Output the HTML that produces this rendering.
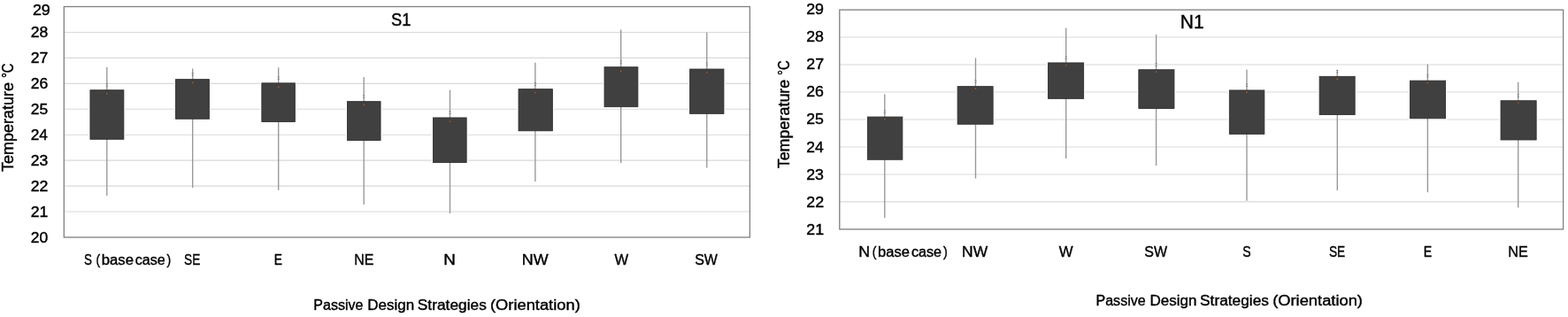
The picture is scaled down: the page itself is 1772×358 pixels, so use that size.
<!DOCTYPE html>
<html><head><meta charset="utf-8"><title>Temperature box plots</title>
<style>
html,body{margin:0;padding:0;background:#fff;}
body{width:1772px;height:358px;overflow:hidden;}
svg{display:block;}
text{font-family:"Liberation Sans", Arial, sans-serif;stroke:#000;stroke-width:0.4px;}
</style></head><body>
<svg width="1772" height="358" viewBox="0 0 1772 358">
<rect width="1772" height="358" fill="#fff"/>
<line x1="72.30" y1="239.06" x2="847.40" y2="239.06" stroke="#d9d9d9" stroke-width="1.1"/>
<line x1="72.30" y1="210.11" x2="847.40" y2="210.11" stroke="#d9d9d9" stroke-width="1.1"/>
<line x1="72.30" y1="181.17" x2="847.40" y2="181.17" stroke="#d9d9d9" stroke-width="1.1"/>
<line x1="72.30" y1="152.22" x2="847.40" y2="152.22" stroke="#d9d9d9" stroke-width="1.1"/>
<line x1="72.30" y1="123.28" x2="847.40" y2="123.28" stroke="#d9d9d9" stroke-width="1.1"/>
<line x1="72.30" y1="94.33" x2="847.40" y2="94.33" stroke="#d9d9d9" stroke-width="1.1"/>
<line x1="72.30" y1="65.39" x2="847.40" y2="65.39" stroke="#d9d9d9" stroke-width="1.1"/>
<line x1="72.30" y1="36.44" x2="847.40" y2="36.44" stroke="#d9d9d9" stroke-width="1.1"/>
<rect x="101.50" y="101.30" width="38.80" height="56.40" fill="#fff" stroke="#fff" stroke-width="2.6"/>
<rect x="198.10" y="89.20" width="38.70" height="45.50" fill="#fff" stroke="#fff" stroke-width="2.6"/>
<rect x="295.40" y="93.40" width="38.40" height="44.50" fill="#fff" stroke="#fff" stroke-width="2.6"/>
<rect x="392.10" y="114.20" width="38.40" height="44.70" fill="#fff" stroke="#fff" stroke-width="2.6"/>
<rect x="489.10" y="132.50" width="38.50" height="51.40" fill="#fff" stroke="#fff" stroke-width="2.6"/>
<rect x="585.60" y="100.20" width="39.20" height="48.00" fill="#fff" stroke="#fff" stroke-width="2.6"/>
<rect x="682.60" y="75.30" width="38.70" height="45.80" fill="#fff" stroke="#fff" stroke-width="2.6"/>
<rect x="779.20" y="77.60" width="39.20" height="51.20" fill="#fff" stroke="#fff" stroke-width="2.6"/>
<line x1="120.80" y1="76.10" x2="120.80" y2="221.00" stroke="#979797" stroke-width="1.35"/>
<line x1="217.70" y1="77.60" x2="217.70" y2="212.00" stroke="#979797" stroke-width="1.35"/>
<line x1="314.70" y1="76.30" x2="314.70" y2="214.80" stroke="#979797" stroke-width="1.35"/>
<line x1="411.20" y1="87.00" x2="411.20" y2="230.90" stroke="#979797" stroke-width="1.35"/>
<line x1="508.50" y1="101.60" x2="508.50" y2="240.90" stroke="#979797" stroke-width="1.35"/>
<line x1="604.90" y1="70.80" x2="604.90" y2="205.10" stroke="#979797" stroke-width="1.35"/>
<line x1="701.70" y1="33.60" x2="701.70" y2="183.90" stroke="#979797" stroke-width="1.35"/>
<line x1="798.80" y1="36.80" x2="798.80" y2="189.50" stroke="#979797" stroke-width="1.35"/>
<rect x="101.95" y="101.75" width="37.90" height="55.50" fill="#404040" stroke="#303030" stroke-width="0.9"/>
<rect x="119.80" y="94.30" width="2.0" height="1.0" fill="#7a7a7a"/>
<rect x="119.80" y="96.80" width="2.0" height="1.0" fill="#7a7a7a"/>
<circle cx="120.80" cy="105.80" r="0.85" fill="#a85a2c"/>
<rect x="198.55" y="89.65" width="37.80" height="44.60" fill="#404040" stroke="#303030" stroke-width="0.9"/>
<rect x="216.70" y="82.20" width="2.0" height="1.0" fill="#7a7a7a"/>
<rect x="216.70" y="84.70" width="2.0" height="1.0" fill="#7a7a7a"/>
<circle cx="217.70" cy="93.40" r="0.85" fill="#a85a2c"/>
<rect x="295.85" y="93.85" width="37.50" height="43.60" fill="#404040" stroke="#303030" stroke-width="0.9"/>
<rect x="313.70" y="86.40" width="2.0" height="1.0" fill="#7a7a7a"/>
<rect x="313.70" y="88.90" width="2.0" height="1.0" fill="#7a7a7a"/>
<circle cx="314.70" cy="98.20" r="0.85" fill="#a85a2c"/>
<rect x="392.55" y="114.65" width="37.50" height="43.80" fill="#404040" stroke="#303030" stroke-width="0.9"/>
<rect x="410.20" y="107.20" width="2.0" height="1.0" fill="#7a7a7a"/>
<rect x="410.20" y="109.70" width="2.0" height="1.0" fill="#7a7a7a"/>
<circle cx="411.20" cy="118.60" r="0.85" fill="#a85a2c"/>
<rect x="489.55" y="132.95" width="37.60" height="50.50" fill="#404040" stroke="#303030" stroke-width="0.9"/>
<rect x="507.50" y="125.50" width="2.0" height="1.0" fill="#7a7a7a"/>
<rect x="507.50" y="128.00" width="2.0" height="1.0" fill="#7a7a7a"/>
<circle cx="508.50" cy="137.00" r="0.85" fill="#a85a2c"/>
<rect x="586.05" y="100.65" width="38.30" height="47.10" fill="#404040" stroke="#303030" stroke-width="0.9"/>
<rect x="603.90" y="93.20" width="2.0" height="1.0" fill="#7a7a7a"/>
<rect x="603.90" y="95.70" width="2.0" height="1.0" fill="#7a7a7a"/>
<circle cx="604.90" cy="104.50" r="0.85" fill="#a85a2c"/>
<rect x="683.05" y="75.75" width="37.80" height="44.90" fill="#404040" stroke="#303030" stroke-width="0.9"/>
<rect x="700.70" y="68.30" width="2.0" height="1.0" fill="#7a7a7a"/>
<rect x="700.70" y="70.80" width="2.0" height="1.0" fill="#7a7a7a"/>
<circle cx="701.70" cy="80.30" r="0.85" fill="#a85a2c"/>
<rect x="779.65" y="78.05" width="38.30" height="50.30" fill="#404040" stroke="#303030" stroke-width="0.9"/>
<rect x="797.80" y="70.60" width="2.0" height="1.0" fill="#7a7a7a"/>
<rect x="797.80" y="73.10" width="2.0" height="1.0" fill="#7a7a7a"/>
<circle cx="798.80" cy="82.00" r="0.85" fill="#a85a2c"/>
<rect x="72.30" y="7.50" width="775.10" height="260.50" fill="none" stroke="#7f7f7f" stroke-width="1.3"/>
<line x1="948.80" y1="227.92" x2="1766.60" y2="227.92" stroke="#d9d9d9" stroke-width="1.1"/>
<line x1="948.80" y1="196.95" x2="1766.60" y2="196.95" stroke="#d9d9d9" stroke-width="1.1"/>
<line x1="948.80" y1="165.97" x2="1766.60" y2="165.97" stroke="#d9d9d9" stroke-width="1.1"/>
<line x1="948.80" y1="135.00" x2="1766.60" y2="135.00" stroke="#d9d9d9" stroke-width="1.1"/>
<line x1="948.80" y1="104.02" x2="1766.60" y2="104.02" stroke="#d9d9d9" stroke-width="1.1"/>
<line x1="948.80" y1="73.05" x2="1766.60" y2="73.05" stroke="#d9d9d9" stroke-width="1.1"/>
<line x1="948.80" y1="42.07" x2="1766.60" y2="42.07" stroke="#d9d9d9" stroke-width="1.1"/>
<rect x="979.90" y="131.60" width="40.40" height="49.10" fill="#fff" stroke="#fff" stroke-width="2.6"/>
<rect x="1081.70" y="97.20" width="40.90" height="43.50" fill="#fff" stroke="#fff" stroke-width="2.6"/>
<rect x="1184.10" y="70.50" width="41.00" height="41.30" fill="#fff" stroke="#fff" stroke-width="2.6"/>
<rect x="1286.40" y="78.30" width="41.00" height="44.60" fill="#fff" stroke="#fff" stroke-width="2.6"/>
<rect x="1388.90" y="101.50" width="40.40" height="50.30" fill="#fff" stroke="#fff" stroke-width="2.6"/>
<rect x="1490.70" y="85.90" width="40.90" height="44.00" fill="#fff" stroke="#fff" stroke-width="2.6"/>
<rect x="1593.10" y="90.70" width="40.90" height="43.50" fill="#fff" stroke="#fff" stroke-width="2.6"/>
<rect x="1695.60" y="113.30" width="41.00" height="45.10" fill="#fff" stroke="#fff" stroke-width="2.6"/>
<line x1="999.80" y1="106.30" x2="999.80" y2="245.90" stroke="#979797" stroke-width="1.35"/>
<line x1="1102.50" y1="65.50" x2="1102.50" y2="201.50" stroke="#979797" stroke-width="1.35"/>
<line x1="1204.70" y1="31.80" x2="1204.70" y2="178.90" stroke="#979797" stroke-width="1.35"/>
<line x1="1306.60" y1="38.90" x2="1306.60" y2="187.00" stroke="#979797" stroke-width="1.35"/>
<line x1="1409.00" y1="78.40" x2="1409.00" y2="226.70" stroke="#979797" stroke-width="1.35"/>
<line x1="1511.30" y1="78.90" x2="1511.30" y2="214.90" stroke="#979797" stroke-width="1.35"/>
<line x1="1613.40" y1="72.60" x2="1613.40" y2="217.20" stroke="#979797" stroke-width="1.35"/>
<line x1="1715.70" y1="92.70" x2="1715.70" y2="234.50" stroke="#979797" stroke-width="1.35"/>
<rect x="980.35" y="132.05" width="39.50" height="48.20" fill="#404040" stroke="#303030" stroke-width="0.9"/>
<rect x="998.80" y="124.60" width="2.0" height="1.0" fill="#7a7a7a"/>
<rect x="998.80" y="127.10" width="2.0" height="1.0" fill="#7a7a7a"/>
<circle cx="999.80" cy="134.60" r="0.85" fill="#a85a2c"/>
<rect x="1082.15" y="97.65" width="40.00" height="42.60" fill="#404040" stroke="#303030" stroke-width="0.9"/>
<rect x="1101.50" y="90.20" width="2.0" height="1.0" fill="#7a7a7a"/>
<rect x="1101.50" y="92.70" width="2.0" height="1.0" fill="#7a7a7a"/>
<circle cx="1102.50" cy="100.20" r="0.85" fill="#a85a2c"/>
<rect x="1184.55" y="70.95" width="40.10" height="40.40" fill="#404040" stroke="#303030" stroke-width="0.9"/>
<rect x="1203.70" y="63.50" width="2.0" height="1.0" fill="#7a7a7a"/>
<rect x="1203.70" y="66.00" width="2.0" height="1.0" fill="#7a7a7a"/>
<circle cx="1204.70" cy="73.80" r="0.85" fill="#a85a2c"/>
<rect x="1286.85" y="78.75" width="40.10" height="43.70" fill="#404040" stroke="#303030" stroke-width="0.9"/>
<rect x="1305.60" y="71.30" width="2.0" height="1.0" fill="#7a7a7a"/>
<rect x="1305.60" y="73.80" width="2.0" height="1.0" fill="#7a7a7a"/>
<circle cx="1306.60" cy="81.10" r="0.85" fill="#a85a2c"/>
<rect x="1389.35" y="101.95" width="39.50" height="49.40" fill="#404040" stroke="#303030" stroke-width="0.9"/>
<rect x="1408.00" y="94.50" width="2.0" height="1.0" fill="#7a7a7a"/>
<rect x="1408.00" y="97.00" width="2.0" height="1.0" fill="#7a7a7a"/>
<circle cx="1409.00" cy="104.20" r="0.85" fill="#a85a2c"/>
<rect x="1491.15" y="86.35" width="40.00" height="43.10" fill="#404040" stroke="#303030" stroke-width="0.9"/>
<rect x="1510.30" y="78.90" width="2.0" height="1.0" fill="#7a7a7a"/>
<rect x="1510.30" y="81.40" width="2.0" height="1.0" fill="#7a7a7a"/>
<circle cx="1511.30" cy="89.20" r="0.85" fill="#a85a2c"/>
<rect x="1593.55" y="91.15" width="40.00" height="42.60" fill="#404040" stroke="#303030" stroke-width="0.9"/>
<rect x="1612.40" y="83.70" width="2.0" height="1.0" fill="#7a7a7a"/>
<rect x="1612.40" y="86.20" width="2.0" height="1.0" fill="#7a7a7a"/>
<circle cx="1613.40" cy="93.60" r="0.85" fill="#a85a2c"/>
<rect x="1696.05" y="113.75" width="40.10" height="44.20" fill="#404040" stroke="#303030" stroke-width="0.9"/>
<rect x="1714.70" y="106.30" width="2.0" height="1.0" fill="#7a7a7a"/>
<rect x="1714.70" y="108.80" width="2.0" height="1.0" fill="#7a7a7a"/>
<circle cx="1715.70" cy="116.00" r="0.85" fill="#a85a2c"/>
<rect x="948.80" y="11.10" width="817.80" height="247.80" fill="none" stroke="#7f7f7f" stroke-width="1.3"/>
<text x="34.72" y="274.48" font-size="16.92" textLength="19.47" lengthAdjust="spacingAndGlyphs" fill="#000">20</text>
<text x="34.72" y="245.37" font-size="16.92" textLength="19.67" lengthAdjust="spacingAndGlyphs" fill="#000">21</text>
<text x="34.71" y="216.26" font-size="16.92" textLength="19.71" lengthAdjust="spacingAndGlyphs" fill="#000">22</text>
<text x="34.72" y="187.15" font-size="16.92" textLength="19.57" lengthAdjust="spacingAndGlyphs" fill="#000">23</text>
<text x="34.73" y="158.04" font-size="16.92" textLength="19.28" lengthAdjust="spacingAndGlyphs" fill="#000">24</text>
<text x="34.72" y="128.93" font-size="16.92" textLength="19.52" lengthAdjust="spacingAndGlyphs" fill="#000">25</text>
<text x="34.72" y="99.82" font-size="16.92" textLength="19.57" lengthAdjust="spacingAndGlyphs" fill="#000">26</text>
<text x="34.71" y="70.71" font-size="16.92" textLength="19.71" lengthAdjust="spacingAndGlyphs" fill="#000">27</text>
<text x="34.72" y="41.60" font-size="16.92" textLength="19.57" lengthAdjust="spacingAndGlyphs" fill="#000">28</text>
<text x="36.90" y="17.00" font-size="16.77" textLength="19.95" lengthAdjust="spacingAndGlyphs" fill="#000">29</text>
<text x="911.21" y="264.73" font-size="16.63" textLength="19.88" lengthAdjust="spacingAndGlyphs" fill="#000">21</text>
<text x="911.20" y="233.67" font-size="16.63" textLength="19.93" lengthAdjust="spacingAndGlyphs" fill="#000">22</text>
<text x="911.21" y="202.61" font-size="16.63" textLength="19.79" lengthAdjust="spacingAndGlyphs" fill="#000">23</text>
<text x="911.22" y="171.55" font-size="16.63" textLength="19.50" lengthAdjust="spacingAndGlyphs" fill="#000">24</text>
<text x="911.21" y="140.49" font-size="16.63" textLength="19.74" lengthAdjust="spacingAndGlyphs" fill="#000">25</text>
<text x="911.21" y="109.43" font-size="16.63" textLength="19.79" lengthAdjust="spacingAndGlyphs" fill="#000">26</text>
<text x="911.20" y="78.37" font-size="16.63" textLength="19.93" lengthAdjust="spacingAndGlyphs" fill="#000">27</text>
<text x="911.21" y="47.31" font-size="16.63" textLength="19.79" lengthAdjust="spacingAndGlyphs" fill="#000">28</text>
<text x="911.21" y="16.25" font-size="16.63" textLength="19.84" lengthAdjust="spacingAndGlyphs" fill="#000">29</text>
<text x="442.08" y="29.20" font-size="20.65" textLength="22.41" lengthAdjust="spacingAndGlyphs" fill="#000">S1</text>
<text x="1333.87" y="31.80" font-size="21.53" textLength="26.85" lengthAdjust="spacingAndGlyphs" fill="#000">N1</text>
<text x="95.10" y="298.80" font-size="17.30" textLength="8.93" lengthAdjust="spacingAndGlyphs" fill="#000">S</text>
<text x="108.42" y="298.80" font-size="17.30" textLength="4.69" lengthAdjust="spacingAndGlyphs" fill="#000">(</text>
<text x="114.81" y="298.80" font-size="17.30" textLength="36.21" lengthAdjust="spacingAndGlyphs" fill="#000">base</text>
<text x="152.82" y="298.80" font-size="17.30" textLength="34.01" lengthAdjust="spacingAndGlyphs" fill="#000">case</text>
<text x="188.49" y="298.80" font-size="17.30" textLength="4.69" lengthAdjust="spacingAndGlyphs" fill="#000">)</text>
<text x="208.08" y="298.80" font-size="17.30" textLength="18.29" lengthAdjust="spacingAndGlyphs" fill="#000">SE</text>
<text x="309.76" y="298.80" font-size="17.30" textLength="9.22" lengthAdjust="spacingAndGlyphs" fill="#000">E</text>
<text x="400.18" y="298.80" font-size="17.30" textLength="22.18" lengthAdjust="spacingAndGlyphs" fill="#000">NE</text>
<text x="501.15" y="298.80" font-size="17.30" textLength="13.60" lengthAdjust="spacingAndGlyphs" fill="#000">N</text>
<text x="589.72" y="298.80" font-size="17.30" textLength="29.84" lengthAdjust="spacingAndGlyphs" fill="#000">NW</text>
<text x="694.42" y="298.80" font-size="17.30" textLength="15.65" lengthAdjust="spacingAndGlyphs" fill="#000">W</text>
<text x="785.18" y="298.80" font-size="17.30" textLength="25.77" lengthAdjust="spacingAndGlyphs" fill="#000">SW</text>
<text x="970.23" y="289.80" font-size="17.30" textLength="12.82" lengthAdjust="spacingAndGlyphs" fill="#000">N</text>
<text x="985.72" y="289.80" font-size="17.30" textLength="4.69" lengthAdjust="spacingAndGlyphs" fill="#000">(</text>
<text x="992.12" y="289.80" font-size="17.30" textLength="35.90" lengthAdjust="spacingAndGlyphs" fill="#000">base</text>
<text x="1030.01" y="289.80" font-size="17.30" textLength="34.11" lengthAdjust="spacingAndGlyphs" fill="#000">case</text>
<text x="1065.89" y="289.80" font-size="17.30" textLength="4.82" lengthAdjust="spacingAndGlyphs" fill="#000">)</text>
<text x="1087.06" y="289.80" font-size="17.30" textLength="29.10" lengthAdjust="spacingAndGlyphs" fill="#000">NW</text>
<text x="1196.82" y="289.80" font-size="17.30" textLength="15.85" lengthAdjust="spacingAndGlyphs" fill="#000">W</text>
<text x="1293.28" y="289.80" font-size="17.30" textLength="25.77" lengthAdjust="spacingAndGlyphs" fill="#000">SW</text>
<text x="1404.27" y="289.80" font-size="17.30" textLength="9.40" lengthAdjust="spacingAndGlyphs" fill="#000">S</text>
<text x="1501.88" y="289.80" font-size="17.30" textLength="18.29" lengthAdjust="spacingAndGlyphs" fill="#000">SE</text>
<text x="1608.83" y="289.80" font-size="17.30" textLength="9.47" lengthAdjust="spacingAndGlyphs" fill="#000">E</text>
<text x="1704.36" y="289.80" font-size="17.30" textLength="22.51" lengthAdjust="spacingAndGlyphs" fill="#000">NE</text>
<text x="354.28" y="349.80" font-size="17.30" textLength="56.23" lengthAdjust="spacingAndGlyphs" fill="#000">Passive</text>
<text x="415.19" y="349.80" font-size="17.30" textLength="53.02" lengthAdjust="spacingAndGlyphs" fill="#000">Design</text>
<text x="471.82" y="349.80" font-size="17.30" textLength="77.99" lengthAdjust="spacingAndGlyphs" fill="#000">Strategies</text>
<text x="553.96" y="349.80" font-size="17.30" textLength="101.80" lengthAdjust="spacingAndGlyphs" fill="#000">(Orientation)</text>
<text x="1238.48" y="345.00" font-size="17.30" textLength="56.23" lengthAdjust="spacingAndGlyphs" fill="#000">Passive</text>
<text x="1299.39" y="345.00" font-size="17.30" textLength="53.02" lengthAdjust="spacingAndGlyphs" fill="#000">Design</text>
<text x="1356.02" y="345.00" font-size="17.30" textLength="77.99" lengthAdjust="spacingAndGlyphs" fill="#000">Strategies</text>
<text x="1438.16" y="345.00" font-size="17.30" textLength="101.80" lengthAdjust="spacingAndGlyphs" fill="#000">(Orientation)</text>
<text transform="translate(15.00,194.00) rotate(-90)" x="0" y="0" font-size="17.80" textLength="100.89" lengthAdjust="spacingAndGlyphs" fill="#000">Temperature</text>
<text transform="translate(15.00,88.09) rotate(-90)" x="0" y="0" font-size="17.80" textLength="16.57" lengthAdjust="spacingAndGlyphs" fill="#000">°C</text>
<text transform="translate(892.30,190.30) rotate(-90)" x="0" y="0" font-size="17.80" textLength="100.59" lengthAdjust="spacingAndGlyphs" fill="#000">Temperature</text>
<text transform="translate(892.30,84.99) rotate(-90)" x="0" y="0" font-size="17.80" textLength="16.68" lengthAdjust="spacingAndGlyphs" fill="#000">°C</text>
</svg>
</body></html>
